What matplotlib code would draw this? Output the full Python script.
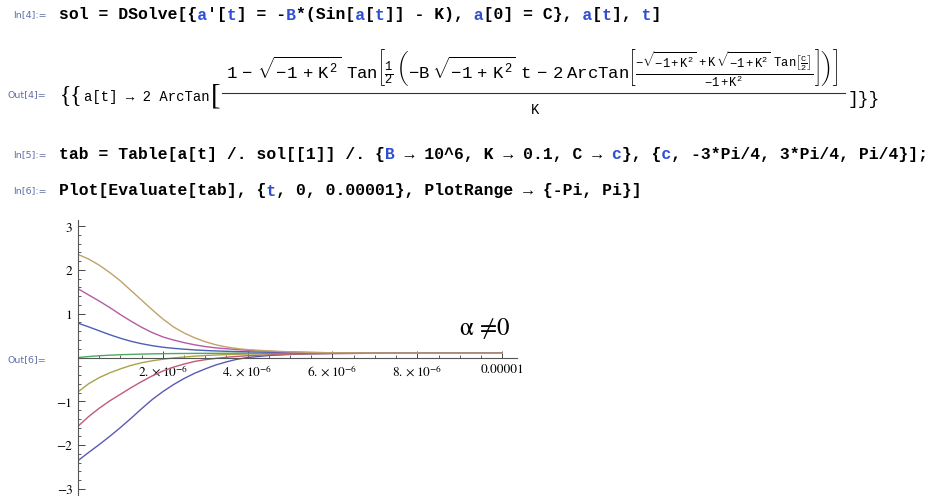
import numpy as np
import matplotlib.pyplot as plt
from matplotlib.lines import Line2D
from matplotlib.ticker import FixedLocator, MultipleLocator

W, H = 934, 502

# values (t in microseconds)
t_us = [0, 0.25, 0.5, 0.75, 1.0, 1.25, 1.5, 1.75, 2.0, 2.25, 2.5, 2.75, 3.0, 3.25,
        3.5, 3.75, 4.0, 4.5, 5.0, 5.5, 6.0, 7.0, 8.0, 10.0]
a_m3 = [-2.356, -2.17, -1.99, -1.80, -1.60, -1.39, -1.17, -0.96, -0.78, -0.62, -0.48, -0.36,
        -0.26, -0.17, -0.10, -0.04, 0.0, 0.045, 0.070, 0.084, 0.091, 0.097, 0.099, 0.100]
a_m2 = [-1.571, -1.35, -1.16, -0.99, -0.84, -0.69, -0.55, -0.42, -0.31, -0.22, -0.15, -0.09,
        -0.05, -0.02, 0.005, 0.025, 0.04, 0.062, 0.077, 0.086, 0.092, 0.097, 0.099, 0.100]
a_m1 = [-0.785, -0.60, -0.46, -0.35, -0.26, -0.18, -0.12, -0.075, -0.04, -0.01, 0.01, 0.03,
        0.045, 0.057, 0.066, 0.073, 0.079, 0.087, 0.092, 0.095, 0.097, 0.099, 0.100, 0.100]
a_0 = [0.0, 0.022, 0.040, 0.053, 0.063, 0.071, 0.078, 0.083, 0.087, 0.090, 0.092, 0.094,
       0.095, 0.096, 0.097, 0.098, 0.098, 0.099, 0.099, 0.100, 0.100, 0.100, 0.100, 0.100]
a_p1 = [0.785, 0.70, 0.61, 0.52, 0.44, 0.37, 0.315, 0.27, 0.235, 0.21, 0.19, 0.173,
        0.16, 0.15, 0.142, 0.135, 0.13, 0.12, 0.112, 0.107, 0.104, 0.101, 0.100, 0.100]
a_p2 = [1.571, 1.43, 1.29, 1.14, 0.98, 0.83, 0.69, 0.57, 0.47, 0.40, 0.34, 0.29,
        0.25, 0.22, 0.20, 0.18, 0.165, 0.14, 0.125, 0.115, 0.108, 0.103, 0.101, 0.100]
a_p3 = [2.356, 2.25, 2.11, 1.94, 1.75, 1.53, 1.31, 1.09, 0.88, 0.70, 0.56, 0.45,
        0.36, 0.29, 0.24, 0.205, 0.18, 0.15, 0.13, 0.115, 0.108, 0.103, 0.101, 0.100]
curves = [a_m3, a_m2, a_m1, a_0, a_p1, a_p2, a_p3]
colors = ['#5a5ab4', '#c05a78', '#a8a448', '#4fa860', '#4d5fb4', '#b65aa6', '#bfa36a']

xtick_vals = [2e-6, 4e-6, 6e-6, 8e-6, 1e-5]
xtick_labels = [r'$2.\times10^{-6}$', r'$4.\times10^{-6}$', r'$6.\times10^{-6}$',
                r'$8.\times10^{-6}$', '0.00001']
ytick_vals = [-3, -2, -1, 1, 2, 3]
ytick_labels = ['\u22123', '\u22122', '\u22121', '1', '2', '3']

plt.rcParams['mathtext.fontset'] = 'stix'
plt.rcParams['mathtext.rm'] = 'Liberation Mono'
plt.rcParams['mathtext.it'] = 'Liberation Mono'
plt.rcParams['mathtext.tt'] = 'Liberation Mono'

MONO = ['Liberation Mono', 'DejaVu Sans Mono']
LBL = '#6070a8'
BLUE = '#2f4fd0'
K = 'black'

fig = plt.figure(figsize=(W / 100, H / 100), dpi=100)
renderer = fig.canvas.get_renderer()


def fx(px):
    return px / W


def fy(py):
    return 1 - py / H


def fit(txt, target_w):
    w = txt.get_window_extent(renderer).width
    txt.set_fontsize(txt.get_fontsize() * target_w / w)


def code_line(x, y, parts, size, weight='bold'):
    for col in set(c for p, c in parts):
        s = ''.join(p if c == col else ' ' * len(p) for p, c in parts)
        fig.text(fx(x), fy(y), s, color=col, family=MONO, weight=weight,
                 fontsize=size, ha='left', va='center')


def label(x, y, s):
    fig.text(fx(x), fy(y), s, color=LBL, family='DejaVu Sans', fontsize=6.8,
             ha='left', va='center')


line1 = [("sol = DSolve[{", K), ("a", BLUE), ("'[", K), ("t", BLUE), ("] = -", K),
         ("B", BLUE), ("*(Sin[", K), ("a", BLUE), ("[", K), ("t", BLUE),
         ("]] - K), ", K), ("a", BLUE), ("[0] = C}, ", K), ("a", BLUE), ("[", K),
         ("t", BLUE), ("], ", K), ("t", BLUE), ("]", K)]
line5 = [("tab = Table[a[t] /. sol[[1]] /. {", K), ("B", BLUE),
         (" \u2192 10^6, K \u2192 0.1, C \u2192 ", K), ("c", BLUE), ("}, {", K),
         ("c", BLUE), (", -3*Pi/4, 3*Pi/4, Pi/4}];", K)]
line6 = [("Plot[Evaluate[tab], {", K), ("t", BLUE),
         (", 0, 0.00001}, PlotRange \u2192 {-Pi, Pi}]", K)]

# font size so the long In[5] line fills its width
probe = fig.text(0, 0, ''.join(p for p, c in line5), family=MONO, weight='bold', fontsize=10)
code_fs = 10 * 868 / probe.get_window_extent(renderer).width
probe.remove()

label(13, 15, 'In[4]:=')
code_line(59, 15, line1, code_fs)
label(13, 155, 'In[5]:=')
code_line(59, 155, line5, code_fs)
label(13, 191, 'In[6]:=')
code_line(59, 191, line6, code_fs)

# Out[4] : 2D formatted output
label(7, 95, 'Out[4]=')
fig.text(fx(60), fy(96), '{{', family='Liberation Serif', fontsize=17, ha='left', va='center')
head = fig.text(fx(84), fy(97), 'a[t] \u2192 2 ArcTan', family=MONO, fontsize=10,
                ha='left', va='center')
fit(head, 126)
fig.text(fx(211), fy(96), '[', family='Liberation Serif', fontsize=21, ha='left', va='center')

num = (r'$1\ -\ \sqrt{-1\ +\ K^2}\ \ Tan\left[\frac{1}{2}\ \left(-B\ \sqrt{-1\ +\ K^2}\ \ t\ -\ 2\ '
       r'ArcTan\left[\frac{-\sqrt{-1+K^2}\ +K\ \sqrt{-1+K^2}\ \ Tan\left[\frac{C}{2}\right]}'
       r'{-1+K^2}\right]\right)\right]$')
numt = fig.text(fx(532), fy(67), num, math_fontfamily='custom', fontsize=10,
                ha='center', va='center')
fit(numt, 616)
fig.add_artist(Line2D([fx(222), fx(845)], [fy(94), fy(94)], transform=fig.transFigure,
                      color='#333333', lw=0.8))
fig.text(fx(535), fy(110), 'K', family=MONO, fontsize=head.get_fontsize(),
         ha='center', va='center')
fig.text(fx(848), fy(99), ']}}', family=MONO, fontsize=13, ha='left', va='center')

# the plot
ax = fig.add_axes([fx(78), fy(496), 439 / W, 275 / H])
for c, col in zip(curves, colors):
    ax.plot(np.array(t_us) * 1e-6, c, color=col, lw=1.0)

ax.set_xlim(0, 1.035e-5)
ax.set_ylim(-np.pi, np.pi)
ax.spines['top'].set_visible(False)
ax.spines['right'].set_visible(False)
ax.spines['bottom'].set_position(('data', 0))
for s in ['left', 'bottom']:
    ax.spines[s].set_color('#555555')
    ax.spines[s].set_linewidth(0.8)
ax.patch.set_alpha(0)

ax.xaxis.set_major_locator(FixedLocator(xtick_vals))
ax.yaxis.set_major_locator(FixedLocator(ytick_vals))
ax.xaxis.set_minor_locator(MultipleLocator(0.5e-6))
ax.yaxis.set_minor_locator(MultipleLocator(0.2))
ax.set_xticklabels(xtick_labels, fontfamily='STIXGeneral', fontsize=9.5)
ax.set_yticklabels(ytick_labels, fontfamily='STIXGeneral', fontsize=9.5)
ax.tick_params(which='major', direction='in', length=5, width=0.7, color='#444444', pad=4)
ax.tick_params(which='minor', direction='in', length=2.5, width=0.6, color='#444444')

ax.text(9.6e-6, 0.70, '\u03b1 \u22600', fontfamily='STIXGeneral', fontsize=18,
        ha='center', va='center')
label(7, 360, 'Out[6]=')

fig.savefig('out.png', dpi=100)
